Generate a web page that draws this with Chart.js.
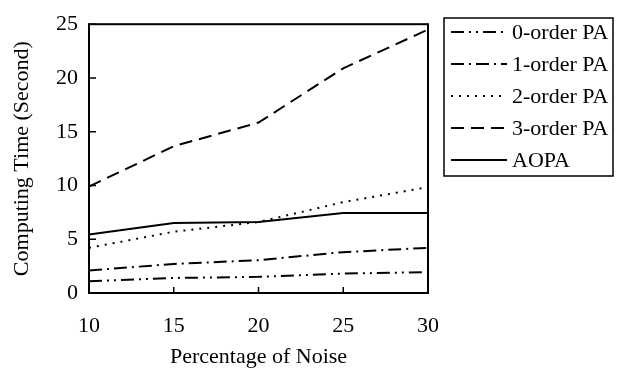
<!DOCTYPE html>
<html>
<head>
<meta charset="utf-8">
<script src="https://cdn.jsdelivr.net/npm/chart.js@4/dist/chart.umd.min.js"></script>
<style>
  html, body { margin: 0; padding: 0; background: #fff; }
  #wrap { width: 618px; height: 376px; position: relative; }
</style>
</head>
<body>
<div id="wrap"><canvas id="c" width="618" height="376"></canvas></div>
<script>
const noiseLevels = [10, 15, 20, 25, 30];
const order0 = [1.1, 1.4, 1.5, 1.8, 1.95];
const order1 = [2.1, 2.7, 3.05, 3.8, 4.2];
const order2 = [4.2, 5.7, 6.6, 8.45, 9.85];
const order3 = [9.9, 13.65, 15.85, 20.9, 24.5];
const aopa   = [5.45, 6.5, 6.6, 7.45, 7.45];
const seriesNames = ['0-order PA', '1-order PA', '2-order PA', '3-order PA', 'AOPA'];
const xTicks = [10, 15, 20, 25, 30];
const yTicks = [0, 5, 10, 15, 20, 25];

const FONT = 'Liberation Serif, Times New Roman, serif';
const FS = 22;
const dashes = [[13, 5, 2, 5, 2, 5], [13, 5, 2, 5], [2, 6], [13, 7], []];
const seriesData = [order0, order1, order2, order3, aopa];

const datasets = seriesData.map((vals, i) => ({
  label: seriesNames[i],
  data: noiseLevels.map((x, k) => ({ x: x, y: vals[k] })),
  borderColor: '#000',
  borderWidth: 2,
  borderDash: dashes[i],
  pointRadius: 0,
  fill: false,
  tension: 0
}));

const framePlugin = {
  id: 'frame',
  afterDraw(chart) {
    const { ctx, chartArea: a, scales } = chart;
    ctx.save();
    ctx.strokeStyle = '#000';
    ctx.lineWidth = 2;
    ctx.setLineDash([]);
    ctx.strokeRect(a.left, a.top, a.right - a.left, a.bottom - a.top);
    ctx.lineWidth = 1.5;
    ctx.beginPath();
    yTicks.forEach(v => {
      const y = scales.y.getPixelForValue(v);
      ctx.moveTo(a.left, y); ctx.lineTo(a.left + 7, y);
    });
    xTicks.forEach(v => {
      const x = scales.x.getPixelForValue(v);
      ctx.moveTo(x, a.bottom); ctx.lineTo(x, a.bottom - 6);
    });
    ctx.stroke();

    // legend
    const bx = 444, by = 18, bw = 169, bh = 158;
    ctx.lineWidth = 1.5;
    ctx.strokeRect(bx, by, bw, bh);
    ctx.font = FS + 'px ' + FONT;
    ctx.fillStyle = '#000';
    ctx.textBaseline = 'middle';
    ctx.textAlign = 'left';
    chart.data.datasets.forEach((ds, i) => {
      const y = by + 14 + i * 32;
      ctx.save();
      ctx.lineWidth = 2;
      ctx.setLineDash(ds.borderDash);
      ctx.beginPath();
      ctx.moveTo(451, y); ctx.lineTo(507, y);
      ctx.stroke();
      ctx.restore();
      ctx.fillText(ds.label, 512, y + 1);
    });
    ctx.restore();
  }
};

new Chart(document.getElementById('c'), {
  type: 'line',
  data: { datasets: datasets },
  options: {
    responsive: false,
    animation: false,
    devicePixelRatio: 1,
    layout: { padding: { top: 16, right: 190, left: 0, bottom: 0 } },
    plugins: { legend: { display: false }, tooltip: { enabled: false } },
    scales: {
      x: {
        type: 'linear',
        min: 10, max: 30,
        afterBuildTicks: s => { s.ticks = xTicks.map(v => ({ value: v })); },
        afterFit: s => { s.height = 83; },
        grid: { display: false, drawTicks: false },
        border: { display: false },
        ticks: { color: '#000', padding: 20, maxRotation: 0, font: { family: FONT, size: FS } },
        title: { display: true, text: 'Percentage of Noise', color: '#000', padding: { top: 0, bottom: 6 }, font: { family: FONT, size: FS } }
      },
      y: {
        min: 0, max: 25,
        afterBuildTicks: s => { s.ticks = yTicks.map(v => ({ value: v })); },
        afterFit: s => { s.width = 89; },
        grid: { display: false, drawTicks: false },
        border: { display: false },
        ticks: { color: '#000', padding: 11, font: { family: FONT, size: FS } },
        title: { display: true, text: 'Computing Time (Second)', color: '#000', padding: { top: 9, bottom: 0 }, font: { family: FONT, size: FS } }
      }
    }
  },
  plugins: [framePlugin]
});
</script>
</body>
</html>
